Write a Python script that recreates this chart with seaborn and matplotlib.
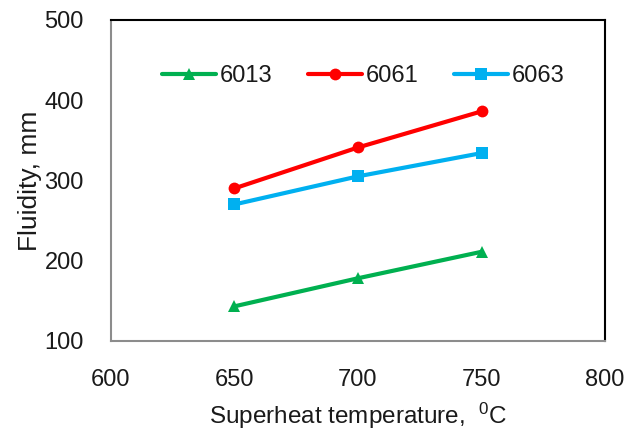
import pandas as pd
import matplotlib
matplotlib.use("Agg")
import matplotlib.pyplot as plt
import seaborn as sns

# Fluidity vs superheat temperature for three alloys
temps = [650, 700, 750]
alloys = ["6013", "6061", "6063"]
fluidity_6013 = [143, 178, 211]
fluidity_6061 = [290, 341, 386]
fluidity_6063 = [270, 305, 334]

df = pd.DataFrame({
    "temp": temps * 3,
    "fluidity": fluidity_6013 + fluidity_6061 + fluidity_6063,
    "alloy": [a for a in alloys for _ in temps],
})

sns.set_style("white")
plt.rcParams["font.family"] = ["Liberation Sans", "DejaVu Sans"]
plt.rcParams["mathtext.fontset"] = "custom"
plt.rcParams["mathtext.rm"] = "Liberation Sans"
plt.rcParams["mathtext.it"] = "Liberation Sans"

pal = {"6013": "#00B050", "6061": "#FF0000", "6063": "#00B0F0"}
marks = {"6013": "^", "6061": "o", "6063": "s"}

fig = plt.figure(figsize=(6.37, 4.32), dpi=100)
ax = fig.add_axes([0.174, 0.211, 0.776, 0.743])

g = sns.lineplot(ax=ax, data=df, x="temp", y="fluidity", hue="alloy",
                 style="alloy", markers=marks, dashes=False, palette=pal,
                 linewidth=3, markersize=8.5, markeredgewidth=0)

ax.set_xlim(600, 800)
ax.set_ylim(100, 500)
ax.set_xticks([600, 650, 700, 750, 800])
ax.set_yticks([100, 200, 300, 400, 500])
ax.tick_params(axis="both", direction="out", length=6.5, width=1.5,
               color="#8c8c8c", labelsize=17, labelcolor="#1a1a1a")
ax.tick_params(axis="x", pad=14)
ax.tick_params(axis="y", pad=13)

for side in ["left", "bottom"]:
    ax.spines[side].set_color("#8c8c8c")
    ax.spines[side].set_linewidth(1.5)
for side in ["right", "top"]:
    ax.spines[side].set_color("black")
    ax.spines[side].set_linewidth(1.5)

ax.set_xlabel("Superheat temperature,  $^{0}$C", fontsize=17.5, color="#1a1a1a",
              labelpad=7)
ax.set_ylabel("Fluidity, mm", fontsize=19, color="#1a1a1a", labelpad=2)

leg = ax.legend(loc="center", bbox_to_anchor=(0.511, 0.825), ncol=3,
                frameon=False, fontsize=17, handlelength=2.3,
                columnspacing=1.5, handletextpad=0.15, borderaxespad=0,
                borderpad=0)
for t in leg.get_texts():
    t.set_color("#1a1a1a")

plt.savefig("out.png", dpi=100)
